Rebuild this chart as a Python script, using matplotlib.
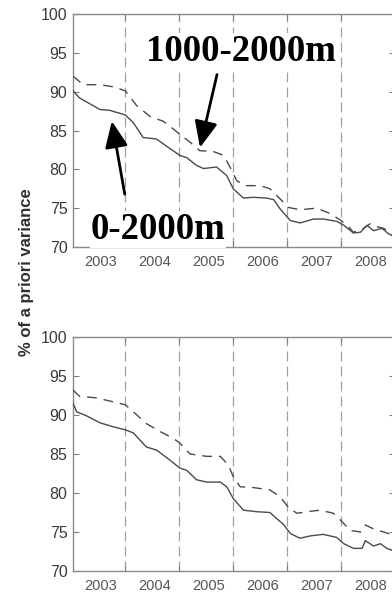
import matplotlib
matplotlib.use('Agg')
import matplotlib.pyplot as plt

# fraction of a priori variance remaining, 0-2000m vs 1000-2000m
t_top_full = [2003.03, 2003.15, 2003.53, 2003.71, 2004.0, 2004.15, 2004.33, 2004.58, 2004.76,
              2005.01, 2005.14, 2005.32, 2005.45, 2005.69, 2005.88, 2006.0, 2006.19, 2006.37,
              2006.62, 2006.75, 2006.87, 2007.06, 2007.24, 2007.49, 2007.67, 2007.92, 2008.05,
              2008.23, 2008.36, 2008.48, 2008.6, 2008.76, 2008.88, 2008.97]
v_top_full = [90.1, 89.2, 87.7, 87.6, 87.0, 86.0, 84.1, 83.9, 83.0,
              81.8, 81.5, 80.5, 80.1, 80.3, 79.2, 77.5, 76.3, 76.4,
              76.3, 76.1, 74.9, 73.4, 73.1, 73.6, 73.6, 73.3, 72.8,
              71.8, 71.9, 72.8, 72.1, 72.4, 71.7, 71.4]

t_top_deep = [2003.03, 2003.22, 2003.53, 2003.8, 2004.0, 2004.21, 2004.46, 2004.7, 2004.89,
              2005.01, 2005.2, 2005.38, 2005.63, 2005.82, 2005.94, 2006.07, 2006.25, 2006.5,
              2006.68, 2006.87, 2007.02, 2007.24, 2007.55, 2007.8, 2007.98, 2008.14, 2008.23,
              2008.42, 2008.54, 2008.67, 2008.79, 2008.97]
v_top_deep = [92.0, 90.9, 90.9, 90.6, 90.1, 88.2, 86.8, 86.2, 85.2,
              84.5, 83.5, 82.4, 82.3, 81.8, 80.3, 78.5, 77.9, 77.9,
              77.5, 76.2, 75.1, 74.8, 75.0, 74.3, 73.5, 72.6, 71.9,
              72.4, 73.0, 72.6, 72.4, 71.6]

t_bot_full = [2003.03, 2003.1, 2003.28, 2003.53, 2003.77, 2004.0, 2004.15, 2004.39, 2004.58,
              2004.83, 2005.01, 2005.14, 2005.32, 2005.51, 2005.76, 2005.88, 2006.0, 2006.19,
              2006.44, 2006.68, 2006.81, 2006.93, 2007.06, 2007.24, 2007.43, 2007.67, 2007.92,
              2008.05, 2008.23, 2008.39, 2008.45, 2008.6, 2008.73, 2008.85, 2008.97]
v_bot_full = [91.5, 90.4, 89.9, 89.0, 88.5, 88.1, 87.7, 85.9, 85.5,
              84.2, 83.2, 82.9, 81.7, 81.4, 81.4, 80.8, 79.3, 77.8,
              77.6, 77.5, 76.7, 76.0, 74.8, 74.2, 74.5, 74.7, 74.3,
              73.5, 72.9, 72.9, 73.9, 73.2, 73.5, 72.9, 72.6]

t_bot_deep = [2003.03, 2003.15, 2003.46, 2003.77, 2004.0, 2004.15, 2004.39, 2004.64, 2004.89,
              2005.01, 2005.2, 2005.51, 2005.76, 2005.91, 2006.0, 2006.13, 2006.37, 2006.68,
              2006.87, 2007.02, 2007.18, 2007.37, 2007.61, 2007.86, 2008.02, 2008.17, 2008.36,
              2008.45, 2008.6, 2008.79, 2008.97]
v_bot_deep = [93.2, 92.4, 92.2, 91.7, 91.3, 90.4, 88.9, 87.9, 87.0,
              86.4, 85.0, 84.7, 84.7, 83.6, 82.1, 80.8, 80.7, 80.4,
              79.5, 78.2, 77.4, 77.6, 77.8, 77.4, 76.3, 75.2, 75.0,
              75.9, 75.4, 75.0, 74.6]

years = [2003, 2004, 2005, 2006, 2007, 2008]
year_breaks = [2004, 2005, 2006, 2007, 2008]
yticks = [70, 75, 80, 85, 90, 95, 100]

plt.rcParams['font.family'] = ['Liberation Sans', 'DejaVu Sans']

fig = plt.figure(figsize=(3.92, 5.93), dpi=100)
W, H = 392.0, 593.0
ax_top = fig.add_axes([73 / W, 1 - 247 / H, 322 / W, 233 / H])
ax_bot = fig.add_axes([73 / W, 1 - 571 / H, 322 / W, 234 / H])

line_c = '#4a4a4a'
for ax, tf, vf, td, vd in [(ax_top, t_top_full, v_top_full, t_top_deep, v_top_deep),
                           (ax_bot, t_bot_full, v_bot_full, t_bot_deep, v_bot_deep)]:
    for xb in year_breaks:
        ax.axvline(xb, color='#a0a0a0', lw=0.9, dashes=(8, 4), zorder=1)
    ax.plot(tf, vf, '-', color=line_c, lw=1.0, zorder=3)
    ax.plot(td, vd, color=line_c, lw=1.0, dashes=(7, 5), zorder=3)
    ax.set_xlim(2003.03, 2009.0)
    ax.set_ylim(70, 100)
    ax.set_yticks(yticks)
    ax.set_xticks(year_breaks)
    ax.set_xticklabels([])
    ax.set_xticks([y + 0.55 for y in years], minor=True)
    ax.set_xticklabels([str(y) for y in years], minor=True)
    ax.tick_params(axis='x', which='major', direction='in', length=4, color='#808080',
                   top=True, bottom=True)
    ax.tick_params(axis='x', which='minor', length=0, pad=5.5, labelsize=10.5, labelcolor='#555555')
    ax.tick_params(axis='y', direction='in', length=4, color='#808080', left=True, right=True,
                   labelsize=11.5, labelcolor='#3a3a3a', pad=4)
    for s in ax.spines.values():
        s.set_color('#8a8a8a')
        s.set_linewidth(1.0)

fig.text(27 / W, 1 - 272 / H, '% of a priori variance', rotation=90, ha='center', va='center',
         fontsize=12, fontweight='bold', color='#303030')

label_font = dict(family=['Liberation Serif', 'DejaVu Serif'], fontsize=26.5, fontweight='bold')
arrow = dict(arrowstyle='-|>,head_length=0.8,head_width=0.35', color='black', lw=2.0,
             mutation_scale=20, shrinkA=0, shrinkB=0)

ax_top.text(2006.15, 94.0, '1000-2000m', ha='center', va='baseline', zorder=5,
            bbox=dict(facecolor='white', edgecolor='none', pad=0.5), **label_font)
ax_top.annotate('', xy=(2005.385, 82.8), xytext=(2005.70, 92.2), arrowprops=arrow, zorder=6)

ax_top.text(2004.61, 71.0, '0-2000m', ha='center', va='baseline', zorder=5,
            bbox=dict(facecolor='white', edgecolor='none', pad=0.5), **label_font)
ax_top.annotate('', xy=(2003.75, 86.2), xytext=(2003.99, 76.8), arrowprops=arrow, zorder=6)

fig.savefig('out.png', dpi=100)
